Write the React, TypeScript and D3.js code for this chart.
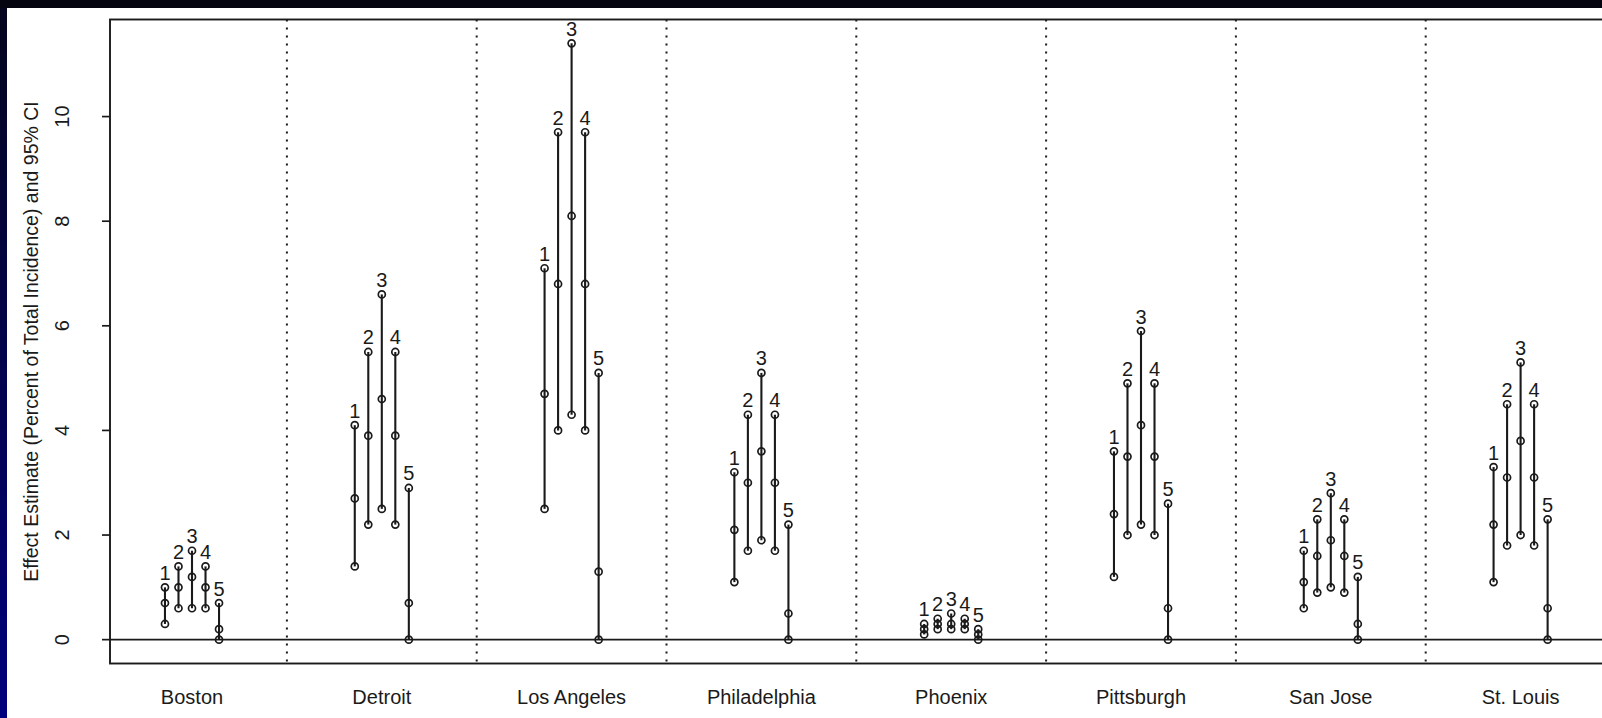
import * as d3 from 'd3';

// cities along the x axis
const cities = ['Boston', 'Detroit', 'Los Angeles', 'Philadelphia', 'Phoenix', 'Pittsburgh', 'San Jose', 'St. Louis'];
// five models per city, labelled 1..5
const models = ['1', '2', '3', '4', '5'];

// lower 95% CI, point estimate, upper 95% CI (percent of total incidence)
const lowerCI = [
  [0.3, 0.6, 0.6, 0.6, 0],
  [1.4, 2.2, 2.5, 2.2, 0],
  [2.5, 4.0, 4.3, 4.0, 0],
  [1.1, 1.7, 1.9, 1.7, 0],
  [0.1, 0.2, 0.2, 0.2, 0],
  [1.2, 2.0, 2.2, 2.0, 0],
  [0.6, 0.9, 1.0, 0.9, 0],
  [1.1, 1.8, 2.0, 1.8, 0],
];
const estimate = [
  [0.7, 1.0, 1.2, 1.0, 0.2],
  [2.7, 3.9, 4.6, 3.9, 0.7],
  [4.7, 6.8, 8.1, 6.8, 1.3],
  [2.1, 3.0, 3.6, 3.0, 0.5],
  [0.2, 0.3, 0.3, 0.3, 0.1],
  [2.4, 3.5, 4.1, 3.5, 0.6],
  [1.1, 1.6, 1.9, 1.6, 0.3],
  [2.2, 3.1, 3.8, 3.1, 0.6],
];
const upperCI = [
  [1.0, 1.4, 1.7, 1.4, 0.7],
  [4.1, 5.5, 6.6, 5.5, 2.9],
  [7.1, 9.7, 11.4, 9.7, 5.1],
  [3.2, 4.3, 5.1, 4.3, 2.2],
  [0.3, 0.4, 0.5, 0.4, 0.2],
  [3.6, 4.9, 5.9, 4.9, 2.6],
  [1.7, 2.3, 2.8, 2.3, 1.2],
  [3.3, 4.5, 5.3, 4.5, 2.3],
];
const yTicks = [0, 2, 4, 6, 8, 10];

const W = 1602;
const H = 718;
const FONT = '"Liberation Sans", Arial, Helvetica, sans-serif';
const INK = '#1a1a1a';

export default function App() {
  // city index (1-based) -> px
  const x = d3.scaleLinear().domain([1, 8]).range([192, 1520.6]);
  const y = d3.scaleLinear().domain([-0.456, 11.856]).range([663.5, 19.5]);
  const step = 0.0712; // spacing between the five models inside a city

  const left = x(1 - 0.432);
  const right = x(8 + 0.46); // frame runs past the right edge of the picture
  const top = y(11.856);
  const bottom = y(-0.456);

  const bars = cities.flatMap((c, i) =>
    models.map((m, j) => ({
      key: `${c}-${m}`,
      label: m,
      cx: x(i + 1 + (j - 2) * step),
      lo: lowerCI[i][j],
      est: estimate[i][j],
      hi: upperCI[i][j],
    }))
  );

  return (
    <div style={{ position: 'fixed', left: 0, top: 0, width: W, height: H, overflow: 'hidden' }}>
      <svg width={W} height={H} style={{ display: 'block', fontFamily: FONT }}>
        <defs>
          <linearGradient id="bg" x1="0" y1="0" x2="0" y2="1">
            <stop offset="0" stopColor="#05051c" />
            <stop offset="1" stopColor="#00007c" />
          </linearGradient>
        </defs>
        <rect x={0} y={0} width={W} height={H} fill="url(#bg)" />
        <rect x={0} y={0} width={W} height={8} fill="#05050f" />
        <rect x={7} y={8} width={W - 7} height={H - 8} fill="#ffffff" />

        {/* city dividers */}
        {d3.range(1.5, 8, 1).map((d) => (
          <line key={d} x1={x(d)} x2={x(d)} y1={top} y2={bottom}
            stroke={INK} strokeWidth={2} strokeDasharray="2 6" />
        ))}

        {/* zero reference */}
        <line x1={left} x2={right} y1={y(0)} y2={y(0)} stroke={INK} strokeWidth={1.7} />

        {/* frame */}
        <rect x={left} y={top} width={right - left} height={bottom - top}
          fill="none" stroke={INK} strokeWidth={1.9} />

        {/* y axis */}
        {yTicks.map((t) => (
          <g key={t}>
            <line x1={left - 8} x2={left} y1={y(t)} y2={y(t)} stroke={INK} strokeWidth={1.7} />
            <text transform={`translate(${69},${y(t)}) rotate(-90)`} textAnchor="middle"
              fontSize={20} fill={INK}>{t}</text>
          </g>
        ))}
        <text transform={`translate(38,${(top + bottom) / 2}) rotate(-90)`} textAnchor="middle"
          fontSize={19.5} fill={INK}>Effect Estimate (Percent of Total Incidence) and 95% CI</text>

        {/* x labels */}
        {cities.map((c, i) => (
          <text key={c} x={x(i + 1)} y={704} textAnchor="middle" fontSize={20} fill={INK}>{c}</text>
        ))}

        {/* intervals */}
        {bars.map((b) => (
          <g key={b.key}>
            <line x1={b.cx} x2={b.cx} y1={y(b.lo)} y2={y(b.hi)} stroke={INK} strokeWidth={2.1} />
            {[b.lo, b.est, b.hi].map((v, k) => (
              <circle key={k} cx={b.cx} cy={y(v)} r={3.5} fill="none" stroke={INK} strokeWidth={1.7} />
            ))}
            <text x={b.cx} y={y(b.hi) - 7.5} textAnchor="middle" fontSize={20} fill={INK}>{b.label}</text>
          </g>
        ))}
      </svg>
    </div>
  );
}
